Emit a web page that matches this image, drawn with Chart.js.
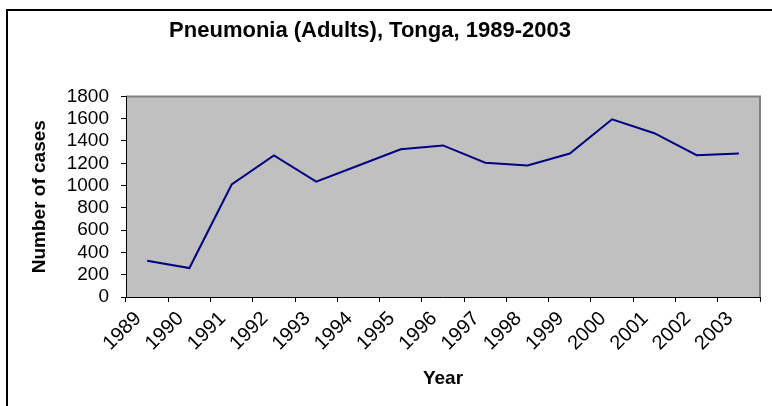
<!DOCTYPE html>
<html>
<head>
<meta charset="utf-8">
<script src="https://cdn.jsdelivr.net/npm/chart.js@4"></script>
<style>
html,body{margin:0;padding:0;background:#fff;}
#wrap{position:relative;width:772px;height:406px;}
</style>
</head>
<body>
<div id="wrap"><canvas id="c" width="772" height="406"></canvas></div>
<script>
const years = ['1989','1990','1991','1992','1993','1994','1995','1996','1997','1998','1999','2000','2001','2002','2003'];
const cases = [325, 260, 1010, 1270, 1035, 1180, 1325, 1360, 1205, 1180, 1287, 1595, 1470, 1272, 1287];
const yTicks = [0,200,400,600,800,1000,1200,1400,1600,1800];

const FONT = '"Liberation Sans", Arial, sans-serif';

const framePlugin = {
  id: 'frame',
  afterLayout(chart) {
    const t = chart.titleBlock;
    if (t) { t.left = 0; t.right = 740; t.width = 740; }
  },
  beforeDraw(chart) {
    const ctx = chart.ctx, a = chart.chartArea;
    ctx.save();
    ctx.fillStyle = '#fff';
    ctx.fillRect(0, 0, chart.width, chart.height);
    ctx.fillStyle = '#C0C0C0';
    ctx.fillRect(a.left, a.top, a.right - a.left, a.bottom - a.top);
    ctx.strokeStyle = '#808080';
    ctx.lineWidth = 2;
    ctx.beginPath();
    ctx.moveTo(a.left, a.top);
    ctx.lineTo(a.right, a.top);
    ctx.lineTo(a.right, a.bottom);
    ctx.stroke();
    // outer frame (top and left)
    ctx.strokeStyle = '#000';
    ctx.lineWidth = 2;
    ctx.beginPath();
    ctx.moveTo(7, chart.height);
    ctx.lineTo(7, 10);
    ctx.lineTo(chart.width, 10);
    ctx.stroke();
    ctx.restore();
  }
};

new Chart(document.getElementById('c'), {
  type: 'line',
  data: {
    labels: years,
    datasets: [{
      data: cases,
      borderColor: '#000080',
      borderWidth: 2,
      pointRadius: 0,
      tension: 0,
      fill: false
    }]
  },
  options: {
    responsive: false,
    animation: false,
    devicePixelRatio: 1,
    layout: { padding: { left: 28, right: 12, top: 10, bottom: 16 } },
    plugins: {
      legend: { display: false },
      tooltip: { enabled: false },
      title: {
        display: true,
        text: 'Pneumonia (Adults), Tonga, 1989-2003',
        color: '#000',
        font: { family: FONT, size: 22, weight: 'bold' },
        padding: { top: 8, bottom: 52 }
      }
    },
    scales: {
      x: {
        type: 'category',
        offset: true,
        grid: { offset: true, drawOnChartArea: false, drawTicks: true, tickLength: 5, color: '#000', lineWidth: 1 },
        border: { display: true, color: '#000', width: 1 },
        ticks: {
          autoSkip: false, maxRotation: 45, minRotation: 45,
          color: '#000', font: { family: FONT, size: 20 }, padding: 5, labelOffset: -9
        },
        title: { display: true, text: 'Year', color: '#000', font: { family: FONT, size: 19, weight: 'bold' }, padding: { top: 0, bottom: 0 } },
        afterFit(s) { s.height = 93; }
      },
      y: {
        min: 0, max: 1800,
        afterBuildTicks(s) { s.ticks = yTicks.map(v => ({ value: v })); },
        grid: { drawOnChartArea: false, drawTicks: true, tickLength: 5, color: '#000', lineWidth: 1 },
        border: { display: true, color: '#000', width: 1 },
        ticks: {
          autoSkip: false, color: '#000', font: { family: FONT, size: 19 }, padding: 12,
          callback: (v) => String(v)
        },
        title: { display: true, text: 'Number of cases', color: '#000', font: { family: FONT, size: 19, weight: 'bold' }, padding: { top: 0, bottom: 0 } },
        afterFit(s) { s.width = 98; }
      }
    }
  },
  plugins: [framePlugin]
});
</script>
</body>
</html>
